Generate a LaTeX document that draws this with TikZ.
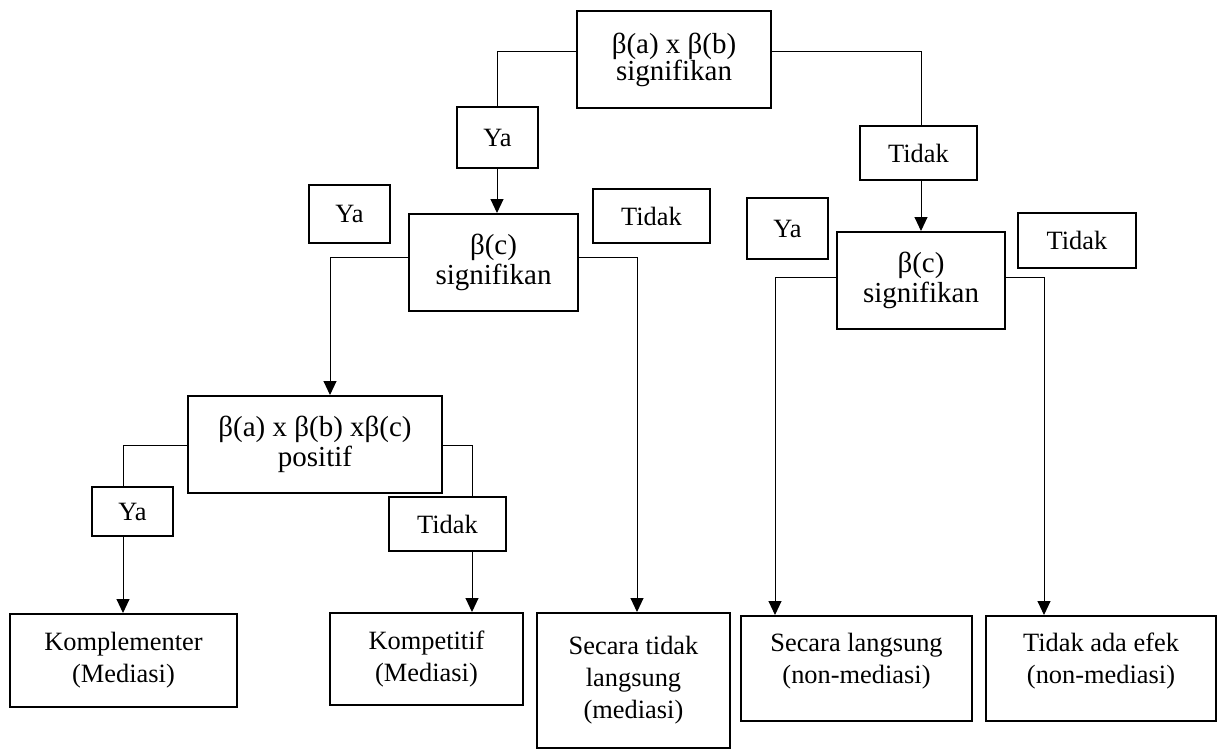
\documentclass[tikz,border=0pt]{standalone}
\usepackage{fontspec}
\setmainfont{Liberation Serif}
\usetikzlibrary{arrows.meta}
\begin{document}
\begin{tikzpicture}[x=1pt,y=-1pt,
  box/.style={draw,line width=2pt,inner sep=0pt,align=center,font=\fontsize{26.4}{32}\selectfont},
  bbox/.style={box,font=\fontsize{29}{30}\selectfont},
  conn/.style={line width=1pt},
  arr/.style={conn,-{Triangle[length=14pt,width=13pt]}}]
\useasboundingbox (0,0) rectangle (1224,749);
% boxes: center, width, height
\node[bbox,minimum width=194pt,minimum height=97pt,font=\fontsize{29}{27}\selectfont] (top) at (674,60) {β(a) x β(b)\\signifikan};
\node[box,minimum width=81pt,minimum height=61pt] (yaA) at (497.5,137.5) {Ya};
\node[box,minimum width=117pt,minimum height=54pt] (tdA) at (918.5,153) {Tidak};
\node[box,minimum width=81pt,minimum height=58pt] (ycL) at (349.5,214) {Ya};
\node[bbox,minimum width=169pt,minimum height=97pt] (bcL) at (493.5,262.5) {β(c)\\signifikan};
\node[box,minimum width=117pt,minimum height=54pt] (tcL) at (651.5,216) {Tidak};
\node[box,minimum width=81pt,minimum height=61pt] (ycR) at (787.5,228.5) {Ya};
\node[bbox,minimum width=168pt,minimum height=97pt] (bcR) at (921,280.5) {β(c)\\signifikan};
\node[box,minimum width=118pt,minimum height=55pt] (tcR) at (1077,240.5) {Tidak};
\node[bbox,minimum width=254pt,minimum height=97pt] (pos) at (315,444.5) {β(a) x β(b) xβ(c)\\positif};
\node[box,minimum width=81pt,minimum height=49pt] (yaP) at (132.5,511.5) {Ya};
\node[box,minimum width=117pt,minimum height=54pt] (tdP) at (447.5,524) {Tidak};
\node[box,minimum width=227pt,minimum height=93pt] (kompl) at (123.5,660.5) {Komplementer\\(Mediasi)};
\node[box,minimum width=193pt,minimum height=92pt] (kompe) at (426.5,659) {Kompetitif\\(Mediasi)};
\node[box,minimum width=193pt,minimum height=135pt] (stl) at (633.5,680.5) {Secara tidak\\langsung\\(mediasi)};
\node[box,minimum width=231pt,minimum height=105pt] (sl) at (856.5,668.5) {Secara langsung\\(non-mediasi)\\[-12pt]};
\node[box,minimum width=230pt,minimum height=105pt] (tae) at (1101,668.5) {Tidak ada efek\\(non-mediasi)\\[-12pt]};
% helper coordinates
\coordinate (h52) at (0,52);
\coordinate (h257) at (0,257);
\coordinate (h277) at (0,277);
\coordinate (h445) at (0,445);
\coordinate (v497) at (497,0);
\coordinate (v921) at (921,0);
\coordinate (v330) at (330,0);
\coordinate (v637) at (637,0);
\coordinate (v123) at (123,0);
\coordinate (v472) at (472,0);
\coordinate (v775) at (775,0);
\coordinate (v1044) at (1044,0);
% connectors
\draw[conn] (top.west |- h52) -| (yaA.north -| v497);
\draw[arr] (yaA.south -| v497) -- (bcL.north -| v497);
\draw[conn] (top.east |- h52) -| (tdA.north -| v921);
\draw[arr] (tdA.south -| v921) -- (bcR.north -| v921);
\draw[arr] (bcL.west |- h257) -| (pos.north -| v330);
\draw[arr] (bcL.east |- h257) -| (stl.north -| v637);
\draw[conn] (pos.west |- h445) -| (yaP.north -| v123);
\draw[arr] (yaP.south -| v123) -- (kompl.north -| v123);
\draw[conn] (pos.east |- h445) -| (tdP.north -| v472);
\draw[arr] (tdP.south -| v472) -- (kompe.north -| v472);
\draw[arr] (bcR.west |- h277) -| (sl.north -| v775);
\draw[arr] (bcR.east |- h277) -| (tae.north -| v1044);
\end{tikzpicture}
\end{document}
